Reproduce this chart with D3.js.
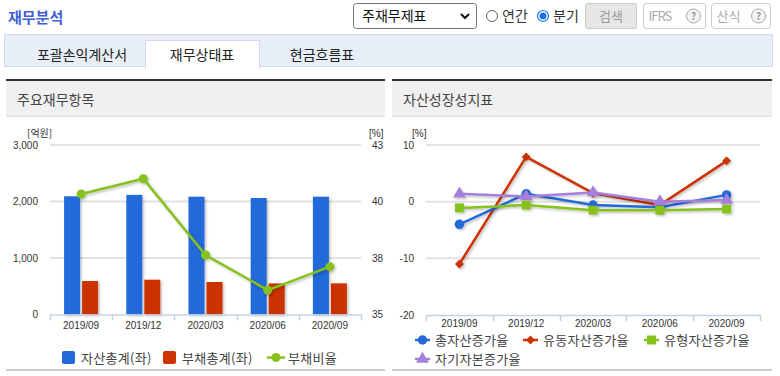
<!DOCTYPE html>
<html>
<head>
<meta charset="utf-8">
<script src="https://cdn.jsdelivr.net/npm/d3@7"></script>
<style>
  body { margin: 0; background: #fff; }
  svg { display: block; font-family: "Noto Sans CJK KR", "Noto Sans", sans-serif; }
</style>
</head>
<body>
<svg id="chart" width="780" height="376"></svg>
<script>
// 분기 카테고리
const periods = ["2019/09", "2019/12", "2020/03", "2020/06", "2020/09"];

// 주요재무항목 (억원, %)
const totalAssets = [2092, 2117, 2085, 2062, 2085];   // 자산총계(좌)
const totalLiabs = [593, 616, 575, 550, 552];         // 부채총계(좌)
const debtRatio = [40.77, 41.53, 37.75, 36.01, 37.17]; // 부채비율
const leftTicks = [0, 1000, 2000, 3000];
const rightTicks = [34.8, 37.6, 40.4, 43.2];           // 라벨은 반올림되어 35, 38, 40, 43

// 자산성장성지표 (%)
const growthNames = ["총자산증가율", "유동자산증가율", "유형자산증가율", "자기자본증가율"];
const growthTotal = [-4.0, 1.4, -0.6, -1.0, 1.2];
const growthCurrent = [-11.0, 7.9, 1.5, -0.6, 7.2];
const growthTangible = [-1.1, -0.6, -1.5, -1.5, -1.3];
const growthEquity = [1.4, 0.9, 1.6, 0.0, 0.3];
const growthTicks = [-20, -10, 0, 10];

const svg = d3.select("#chart");
const txt = "#333";
const numFont = "Liberation Sans, Arial, sans-serif";

// 그림자 필터
const defs = svg.append("defs");
const f = defs.append("filter").attr("id", "shadow").attr("x", "-20%").attr("y", "-20%").attr("width", "150%").attr("height", "150%");
f.append("feDropShadow").attr("dx", 1.5).attr("dy", 1.5).attr("stdDeviation", 0.8)
  .attr("flood-color", "#000").attr("flood-opacity", 0.25);

// ---------- 상단 영역 ----------
svg.append("text").attr("x", 8).attr("y", 23).attr("font-size", 15).attr("font-weight", "bold")
  .attr("fill", "#3f5fd3").text("재무분석");

// 셀렉트 박스
svg.append("rect").attr("x", 353.5).attr("y", 3.5).attr("width", 123).attr("height", 25).attr("rx", 3)
  .attr("fill", "#fff").attr("stroke", "#767676");
svg.append("text").attr("x", 362).attr("y", 21).attr("font-size", 14).attr("fill", "#111").text("주재무제표");
svg.append("path").attr("d", "M461,14 L465,18 L469,14").attr("fill", "none").attr("stroke", "#111").attr("stroke-width", 2);

// 라디오 버튼
svg.append("circle").attr("cx", 492).attr("cy", 16).attr("r", 5.5).attr("fill", "#fff").attr("stroke", "#666");
svg.append("text").attr("x", 502).attr("y", 21).attr("font-size", 14).attr("fill", txt).text("연간");
svg.append("circle").attr("cx", 543).attr("cy", 16).attr("r", 5.5).attr("fill", "#fff").attr("stroke", "#1a73e8").attr("stroke-width", 1.2);
svg.append("circle").attr("cx", 543).attr("cy", 16).attr("r", 3.5).attr("fill", "#1a73e8");
svg.append("text").attr("x", 553).attr("y", 21).attr("font-size", 14).attr("fill", txt).text("분기");

// 버튼
svg.append("rect").attr("x", 585.5).attr("y", 3.5).attr("width", 51).attr("height", 25).attr("rx", 2)
  .attr("fill", "#e6e6e6").attr("stroke", "#ccc");
svg.append("text").attr("x", 611).attr("y", 21).attr("text-anchor", "middle").attr("font-size", 13).attr("fill", "#999").text("검색");

[[643.5, 62, "IFRS"], [711.5, 59, "산식"]].forEach(([x, w, label]) => {
  svg.append("rect").attr("x", x).attr("y", 3.5).attr("width", w).attr("height", 25).attr("rx", 3)
    .attr("fill", "#fff").attr("stroke", "#ccc");
  svg.append("text").attr("x", x + 5).attr("y", 21).attr("font-size", 13).attr("fill", "#aaa")
    .attr("letter-spacing", label === "IFRS" ? -1 : 0).text(label);
  const cx = x + w - 12;
  svg.append("circle").attr("cx", cx).attr("cy", 16).attr("r", 7).attr("fill", "#f4f4f4").attr("stroke", "#aaa");
  svg.append("text").attr("x", cx).attr("y", 20).attr("text-anchor", "middle").attr("font-size", 10)
    .attr("font-weight", "bold").attr("fill", "#999").text("?");
});

// 탭 바
svg.append("rect").attr("x", 4.5).attr("y", 34.5).attr("width", 768).attr("height", 32)
  .attr("fill", "#e8eef8").attr("stroke", "#d3dbe8");
svg.append("rect").attr("x", 145.5).attr("y", 40.5).attr("width", 114).attr("height", 28)
  .attr("fill", "#fff").attr("stroke", "#d3dbe8");
svg.append("rect").attr("x", 146).attr("y", 66).attr("width", 113).attr("height", 3).attr("fill", "#fff");
[["포괄손익계산서", 82], ["재무상태표", 202], ["현금흐름표", 322]].forEach(([t, x]) => {
  svg.append("text").attr("x", x).attr("y", 60).attr("text-anchor", "middle").attr("font-size", 14)
    .attr("fill", "#222").text(t);
});

// ---------- 패널 ----------
function panel(x, w, title) {
  svg.append("rect").attr("x", x).attr("y", 81).attr("width", w).attr("height", 35).attr("fill", "#f0f0f0");
  svg.append("line").attr("x1", x).attr("x2", x + w).attr("y1", 116.5).attr("y2", 116.5).attr("stroke", "#ddd");
  svg.append("rect").attr("x", x).attr("y", 79).attr("width", w).attr("height", 2).attr("fill", "#333");
  svg.append("rect").attr("x", x).attr("y", 369).attr("width", w).attr("height", 2).attr("fill", "#ccc");
  svg.append("text").attr("x", x + 11).attr("y", 105).attr("font-size", 14).attr("fill", "#444").text(title);
}
panel(6, 379, "주요재무항목");
panel(392, 380, "자산성장성지표");

// ---------- 왼쪽 차트 ----------
const L = { left: 50, right: 361, top: 145, bottom: 314.5 };
const yL = d3.scaleLinear().domain([0, 3000]).range([L.bottom, L.top]);
const yR = d3.scaleLinear().domain([34.8, 43.2]).range([L.bottom, L.top]);
const xBand = d3.scaleBand().domain(periods).range([L.left, L.right]).paddingInner(0.453).paddingOuter(0.2265);
const xSub = d3.scaleBand().domain(["assets", "liabs"]).range([0, xBand.bandwidth()]).paddingInner(0.111);
const xPt = d3.scalePoint().domain(periods).range([L.left, L.right]).padding(0.5);

const gL = svg.append("g");
gL.append("g").selectAll("line").data(leftTicks.slice(1)).join("line")
  .attr("x1", L.left).attr("x2", L.right).attr("y1", d => yL(d)).attr("y2", d => yL(d))
  .attr("stroke", "#e2e2e2").attr("stroke-width", 2);

const axL = gL.append("g").attr("transform", `translate(${L.left - 9},0)`)
  .call(d3.axisLeft(yL).tickValues(leftTicks).tickFormat(d3.format(",")).tickSize(0));
axL.select(".domain").remove();
axL.selectAll("text").attr("font-size", 10).attr("fill", txt).attr("font-family", numFont);

const axR = gL.append("g").attr("transform", `translate(${L.right + 8},0)`)
  .call(d3.axisRight(yR).tickValues(rightTicks).tickFormat(d3.format(".0f")).tickSize(0));
axR.select(".domain").remove();
axR.selectAll("text").attr("font-size", 10).attr("fill", txt).attr("font-family", numFont);

gL.append("text").attr("x", 27).attr("y", 137).attr("font-size", 10).attr("fill", txt).text("[억원]");
gL.append("text").attr("x", 369).attr("y", 137).attr("font-size", 10).attr("fill", txt)
  .attr("font-family", numFont).text("[%]");

// 막대
const barData = periods.map((p, i) => ({ p, assets: totalAssets[i], liabs: totalLiabs[i] }));
const barColor = { assets: "#2369d9", liabs: "#cc3300" };
gL.append("g").attr("filter", "url(#shadow)").selectAll("g").data(barData).join("g")
  .attr("transform", d => `translate(${xBand(d.p)},0)`)
  .selectAll("rect").data(d => ["assets", "liabs"].map(k => ({ k, v: d[k] }))).join("rect")
  .attr("x", d => xSub(d.k)).attr("width", xSub.bandwidth())
  .attr("y", d => yL(d.v)).attr("height", d => yL(0) - yL(d.v))
  .attr("fill", d => barColor[d.k]);

// x축
function xAxis(g, x0, x1, y, n) {
  g.append("line").attr("x1", x0).attr("x2", x1).attr("y1", y + 0.5).attr("y2", y + 0.5).attr("stroke", "#c3d3e6").attr("stroke-width", 1.5);
  const tickX = d3.range(n + 1).map(i => x0 + (x1 - x0) * i / n);
  g.selectAll(null).data(tickX).join("line")
    .attr("x1", d => Math.round(d) + 0.5).attr("x2", d => Math.round(d) + 0.5).attr("y1", y).attr("y2", y + 6)
    .attr("stroke", "#c3d3e6").attr("stroke-width", 1.5);
}
xAxis(gL, L.left, L.right, L.bottom, periods.length);
gL.append("g").selectAll("text").data(periods).join("text")
  .attr("x", d => xPt(d)).attr("y", 329).attr("text-anchor", "middle").attr("font-size", 10).attr("fill", txt)
  .attr("font-family", numFont).text(d => d);

// 부채비율 선
const green = "#86c11e";
const gLine = gL.append("g").attr("filter", "url(#shadow)");
gLine.append("path").datum(debtRatio)
  .attr("d", d3.line().x((d, i) => xPt(periods[i])).y(d => yR(d)))
  .attr("fill", "none").attr("stroke", green).attr("stroke-width", 2.5);
gLine.selectAll("circle").data(debtRatio).join("circle")
  .attr("cx", (d, i) => xPt(periods[i])).attr("cy", d => yR(d)).attr("r", 4.5).attr("fill", green);

// 왼쪽 범례
const legL = gL.append("g").attr("font-size", 13).attr("fill", "#444").attr("letter-spacing", 0.3);
legL.append("rect").attr("x", 62).attr("y", 351).attr("width", 13).attr("height", 13).attr("rx", 2).attr("fill", barColor.assets);
legL.append("text").attr("x", 81).attr("y", 363).text("자산총계(좌)");
legL.append("rect").attr("x", 163).attr("y", 351).attr("width", 13).attr("height", 13).attr("rx", 2).attr("fill", barColor.liabs);
legL.append("text").attr("x", 182).attr("y", 363).text("부채총계(좌)");
legL.append("line").attr("x1", 267).attr("x2", 285).attr("y1", 357.5).attr("y2", 357.5).attr("stroke", green).attr("stroke-width", 2.5);
legL.append("circle").attr("cx", 276).attr("cy", 357.5).attr("r", 4.5).attr("fill", green);
legL.append("text").attr("x", 288).attr("y", 363).text("부채비율");

// ---------- 오른쪽 차트 ----------
const R = { left: 426, right: 760, top: 145, bottom: 315 };
const yG = d3.scaleLinear().domain([-20, 10]).range([R.bottom, R.top]);
const xG = d3.scalePoint().domain(periods).range([R.left, R.right]).padding(0.5);
const gR = svg.append("g");

gR.append("g").selectAll("line").data(growthTicks.slice(1)).join("line")
  .attr("x1", R.left).attr("x2", R.right).attr("y1", d => yG(d)).attr("y2", d => yG(d))
  .attr("stroke", "#e2e2e2").attr("stroke-width", 2);

const axG = gR.append("g").attr("transform", `translate(${R.left - 9},0)`)
  .call(d3.axisLeft(yG).tickValues(growthTicks).tickFormat(d3.format("d")).tickSize(0));
axG.select(".domain").remove();
axG.selectAll("text").attr("font-size", 10).attr("fill", txt).attr("font-family", numFont)
  .text(d => d < 0 ? "-" + Math.abs(d) : d);
gR.append("text").attr("x", 412).attr("y", 137).attr("font-size", 10).attr("fill", txt)
  .attr("font-family", numFont).text("[%]");

xAxis(gR, R.left, R.right, R.bottom, periods.length);
gR.append("g").selectAll("text").data(periods).join("text")
  .attr("x", d => xG(d)).attr("y", 327).attr("text-anchor", "middle").attr("font-size", 10).attr("fill", txt)
  .attr("font-family", numFont).text(d => d);

// 마름모는 정사각형을 45도 회전
const series = [
  { name: growthNames[0], values: growthTotal, color: "#2369d9", shape: d3.symbolCircle, size: 70, rot: 0 },
  { name: growthNames[1], values: growthCurrent, color: "#cc3300", shape: d3.symbolSquare, size: 40, rot: 45 },
  { name: growthNames[2], values: growthTangible, color: "#86c11e", shape: d3.symbolSquare, size: 80, rot: 0 },
  { name: growthNames[3], values: growthEquity, color: "#a57fdc", shape: d3.symbolTriangle, size: 70, rot: 0 }
];
// 그리는 순서: 유동, 총자산, 자기자본, 유형
const drawOrder = [1, 0, 3, 2];
drawOrder.forEach(si => {
  const s = series[si];
  const g = gR.append("g").attr("filter", "url(#shadow)");
  g.append("path").datum(s.values)
    .attr("d", d3.line().x((d, i) => xG(periods[i])).y(d => yG(d)))
    .attr("fill", "none").attr("stroke", s.color).attr("stroke-width", 2.5);
  g.selectAll("path.m").data(s.values).join("path").attr("class", "m")
    .attr("transform", (d, i) => `translate(${xG(periods[i])},${yG(d)}) rotate(${s.rot})`)
    .attr("d", d3.symbol().type(s.shape).size(s.size)).attr("fill", s.color);
});

// 오른쪽 범례
const legPos = [[415, 340], [523, 340], [644, 340], [415, 359]];
const legR = gR.append("g").attr("font-size", 13).attr("fill", "#444").attr("letter-spacing", 0.3);
series.forEach((s, i) => {
  const [x, y] = legPos[i];
  legR.append("line").attr("x1", x).attr("x2", x + 15).attr("y1", y).attr("y2", y).attr("stroke", s.color).attr("stroke-width", 2.5);
  legR.append("path").attr("transform", `translate(${x + 7.5},${y}) rotate(${s.rot})`)
    .attr("d", d3.symbol().type(s.shape).size(s.size)).attr("fill", s.color);
  legR.append("text").attr("x", x + 20).attr("y", y + 5).text(s.name);
});
</script>
</body>
</html>
